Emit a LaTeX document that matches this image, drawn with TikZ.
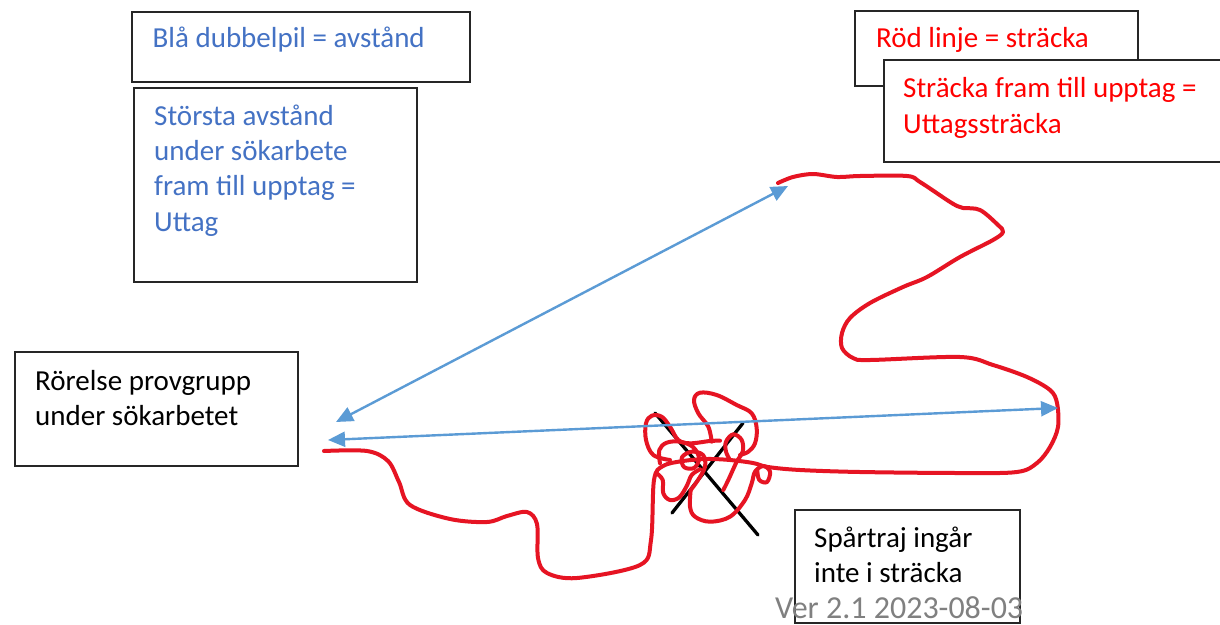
\documentclass[tikz,border=0pt]{standalone}
\usepackage{fontspec}
\setmainfont{Carlito}
\usetikzlibrary{arrows.meta}
\definecolor{txtblue}{RGB}{68,114,196}
\definecolor{arrblue}{RGB}{91,155,213}
\definecolor{pathred}{RGB}{230,20,35}
\definecolor{vergray}{RGB}{128,128,128}
\tikzset{
  box/.style={draw=black!85,line width=1.3pt,fill=white},
  lbl/.style={anchor=base west,inner sep=0pt,font=\fontsize{29}{35.3}\selectfont},
  bluetxt/.style={lbl,text=txtblue},
  redtxt/.style={lbl,text=red},
  blktxt/.style={lbl,text=black},
  trail/.style={draw=pathred,line width=4pt,line cap=round,line join=round},
  cross/.style={draw=black,line width=3.3pt,line cap=round},
  dist/.style={draw=arrblue,line width=2.4pt,{Triangle[length=17pt,width=15pt]}-{Triangle[length=17pt,width=15pt]}}
}
\begin{document}
\begin{tikzpicture}[x=1pt,y=-1pt]
\useasboundingbox (0,0) rectangle (1220,624);
\clip (0,0) rectangle (1220,624);
\fill[white] (0,0) rectangle (1220,624);

% boxes
\draw[box] (132,12) rectangle (470,82);
\draw[box] (134,88) rectangle (417,282);
\draw[box] (855,11) rectangle (1138,86);
\draw[box] (884,60) rectangle (1226,162);
\draw[box] (15,352) rectangle (298,466);
\draw[box] (795,510) rectangle (1020,623);

% texts
\node[bluetxt] (t1) at (152.5,47) {Blå dubbelpil = avstånd};
\node[bluetxt] (t2a) at (154,125) {Största avstånd};
\node[bluetxt] (t2b) at (154,160.3) {under sökarbete};
\node[bluetxt] (t2c) at (154,195.6) {fram till upptag =};
\node[bluetxt] (t2d) at (154,231) {Uttag};
\node[redtxt] (r1) at (876,47) {Röd linje = sträcka};
\node[redtxt] (r2a) at (903,97) {Sträcka fram till upptag =};
\node[redtxt] (r2b) at (903,133) {Uttagssträcka};
\node[blktxt] (k1a) at (35,390) {Rörelse provgrupp};
\node[blktxt] (k1b) at (35,425) {under sökarbetet};
\node[blktxt] (k2a) at (814,547) {Spårtraj ingår};
\node[blktxt] (k2b) at (814,582) {inte i sträcka};

% black cross
\draw[cross] (655,413) -- (758,535);
\draw[cross] (672,513) -- (743,423);

% red trail
\draw[trail] plot[smooth,tension=0.55] coordinates {
 (324,451) (367,451) (388,461) (399,482) (410,505) (450,519) (487,522)
 (507,516) (527,512) (537,524) (538,558) (547,573) (577,578) (640,565)
 (651,540) (654,480) (663,466) (683,461) (707,459) (730,460) (753,463)
 (768,467) (800,470) (860,472) (960,473) (1017,472) (1037,463) (1050,447)
 (1058,427) (1057,403) (1050,390) (1027,377) (993,365) (960,357) (870,360)
 (853,358) (842,348) (842,333) (850,318) (870,303) (903,287) (927,277)
 (960,257) (993,240) (1003,232) (998,225) (980,210) (963,208) (957,206)
 (947,200) (920,182) (907,176) (860,176) (837,177) (813,174) (793,177) (778,183)};
% scribble loops
\draw[trail] plot[smooth,tension=0.6] coordinates {
 (711.7,441.7) (708.3,426.7) (698.3,413.3) (694,400) (700,392.7) (716.7,395)
 (736.7,405) (751.7,413.3) (756.7,428.3) (755,443.3) (748.3,451.7) (740,455)};
\draw[trail] plot[smooth,tension=0.6] coordinates {
 (730,460) (726,451.7) (726,441.7) (733.3,434.3) (741.7,440) (742.7,451.7)
 (736.7,461.7) (728.3,480) (723.3,490)};
\draw[trail] plot[smooth,tension=0.6] coordinates {
 (670,460) (653.3,455) (646,440) (646,423.3) (651.7,415.7) (661.7,416.7)
 (670,426.7) (678.3,440) (690,443.3) (710,441) (720,440.7)};
\draw[trail] plot[smooth,tension=0.6] coordinates {
 (660,463.3) (659.3,450) (666.7,442.7) (680,441.7) (693,447) (699,458.3)
 (694,468) (684,467) (682,457.3) (691.7,451.7) (703,455) (705,466.7)
 (698,480) (690.7,490)};
\draw[trail] plot[smooth,tension=0.6] coordinates {
 (656.7,473.3) (662.7,480) (663.3,493.3) (670,500) (679.3,497.3) (686.7,486)
 (691.7,475) (700,469.3)};
\draw[trail] plot[smooth,tension=0.6] coordinates {
 (690.7,490) (690,506.7) (695,516.7) (710,521.7) (730,516.7) (745,500)
 (751.7,483.3) (755,471.7) (763.3,466) (770,471.7) (767,482) (759.3,480)
 (757.3,470.7)};

% blue distance arrows
\coordinate (a1s) at (336,422);
\coordinate (a1e) at (788,186);
\coordinate (a2s) at (328,440);
\coordinate (a2e) at (1058,408);
\draw[dist] (a1s) -- (a1e);
\draw[dist] (a2s) -- (a2e);

% version
\node[anchor=base west,inner sep=0pt,text=vergray,font=\fontsize{32}{38}\selectfont] (ver) at (775,618) {Ver 2.1 2023-08-03};
\end{tikzpicture}
\end{document}
